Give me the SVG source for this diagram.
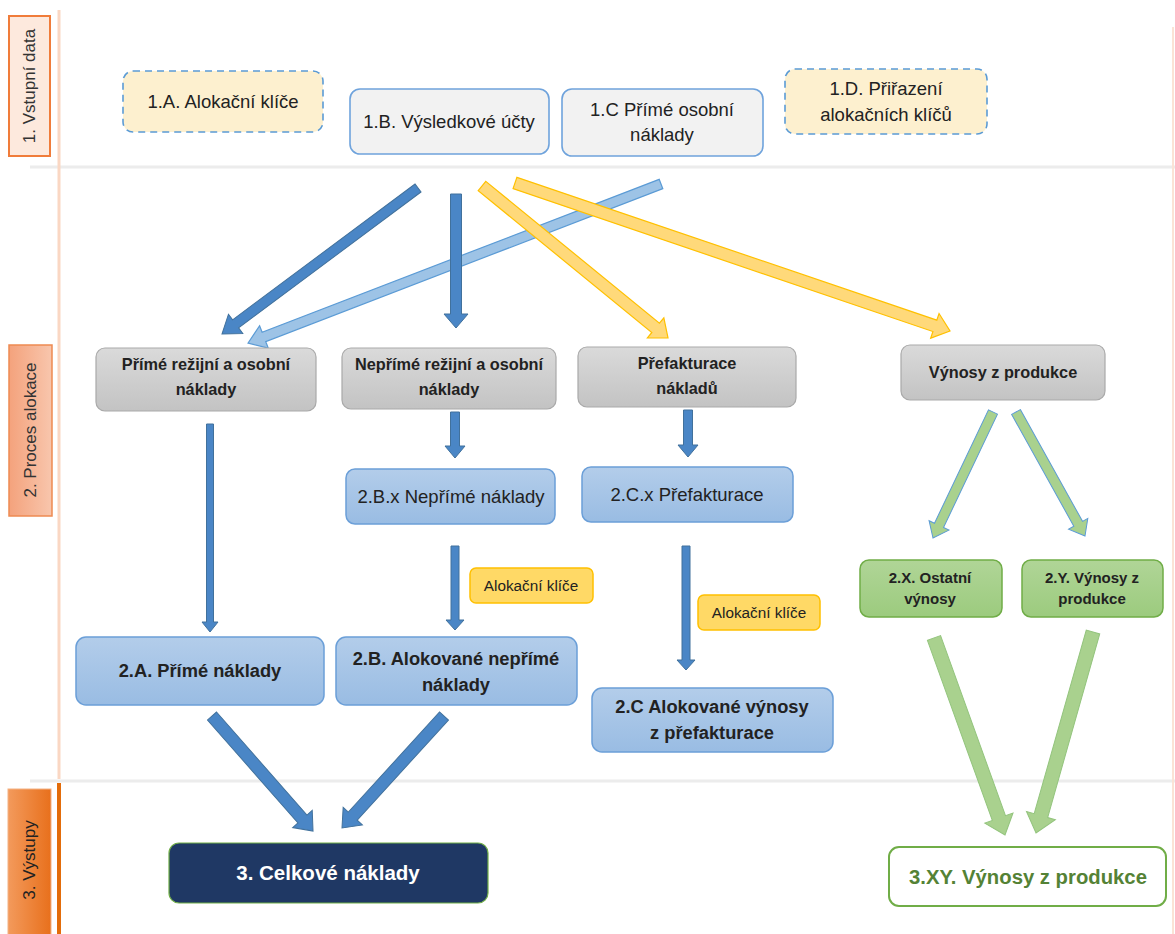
<svg xmlns="http://www.w3.org/2000/svg" width="1175" height="934" viewBox="0 0 1175 934">
<defs>
<linearGradient id="gGray" x1="0" y1="0" x2="0" y2="1"><stop offset="0" stop-color="#dadada"/><stop offset="1" stop-color="#c3c3c3"/></linearGradient>
<linearGradient id="gBlue" x1="0" y1="0" x2="0" y2="1"><stop offset="0" stop-color="#b3cdea"/><stop offset="1" stop-color="#99bce3"/></linearGradient>
<linearGradient id="gGreen" x1="0" y1="0" x2="0" y2="1"><stop offset="0" stop-color="#b0d597"/><stop offset="1" stop-color="#9ccb7e"/></linearGradient>
<linearGradient id="gL2" x1="0" y1="0" x2="1" y2="0"><stop offset="0" stop-color="#f4a27c"/><stop offset="1" stop-color="#f8c6ad"/></linearGradient>
<linearGradient id="gL3" x1="0" y1="0" x2="1" y2="0"><stop offset="0" stop-color="#f39a5c"/><stop offset="1" stop-color="#e8701c"/></linearGradient>
</defs>
<style>
text{font-family:"Liberation Sans",Arial,sans-serif;text-anchor:middle;fill:#222}
.in{fill:#f2f2f2;stroke:#6fa3dc;stroke-width:1.6}
.key{fill:#fdf0cf;stroke:#5b9bd5;stroke-width:1.6;stroke-dasharray:7 5}
.gray{fill:url(#gGray);stroke:#a9a9a9;stroke-width:1.2}
.blue{fill:url(#gBlue);stroke:#6b9fd8;stroke-width:1.5}
.green{fill:url(#gGreen);stroke:#70ad47;stroke-width:1.5}
.ylw{fill:#ffd966;stroke:#ffc000;stroke-width:1.5}
.t19{font-size:18.5px}
.b16{font-size:16.3px;font-weight:bold}
.b18{font-size:18.3px;font-weight:bold}
.n18{font-size:18.5px}
.b15{font-size:15px;font-weight:bold}
.y15{font-size:15.3px}
.lane{font-size:17px;fill:#333}
.aDark{fill:#4a86c6;stroke:#41719c;stroke-width:1}
.aLight{fill:#9dc3e6;stroke:#5b9bd5;stroke-width:1.2}
.aYel{fill:#ffd97a;stroke:#ffc000;stroke-width:1.2}
.aGrnB{fill:#a9d18e;stroke:#5b9bd5;stroke-width:1}
.aGrn{fill:#a9d18e;stroke:#93c47d;stroke-width:1}
</style>
<rect width="1175" height="934" fill="#ffffff"/>
<g id="lanes">
<line x1="30" y1="167" x2="1175" y2="167" stroke="#ececec" stroke-width="3"/>
<line x1="30" y1="781" x2="1175" y2="781" stroke="#ececec" stroke-width="3"/>
<line x1="59" y1="10" x2="59" y2="779" stroke="#fad7c3" stroke-width="3"/>
<line x1="59" y1="783" x2="59" y2="934" stroke="#e36c0a" stroke-width="4"/>
<line x1="1173" y1="27" x2="1173" y2="934" stroke="#fbe3d6" stroke-width="2"/>
<rect x="9" y="16" width="41" height="140" fill="#fde9dd" stroke="#f07c3a" stroke-width="2"/>
<text class="lane" transform="translate(35,86) rotate(-90)">1. Vstupní data</text>
<rect x="9" y="345" width="43" height="171" fill="url(#gL2)" stroke="#ee8a52" stroke-width="1.5"/>
<text class="lane" transform="translate(36,430) rotate(-90)">2. Proces alokace</text>
<rect x="8" y="789" width="43" height="150" fill="url(#gL3)" stroke="#f4b183" stroke-width="1"/>
<text class="lane" transform="translate(35,860) rotate(-90)" style="fill:#222">3. Výstupy</text>
</g>
<g id="connectors">
<g transform="translate(418,188) rotate(143.32)"><path class="aDark" d="M0,-5 L227.4,-5 L227.4,-12 L244.4,0 L227.4,12 L227.4,5 L0,5 Z"/></g>
<g transform="translate(661,184) rotate(158.94)"><path class="aLight" d="M0,-5 L425.5,-5 L425.5,-12 L442.5,0 L425.5,12 L425.5,5 L0,5 Z"/></g>
<g transform="translate(456,194) rotate(90)"><path class="aDark" d="M0,-5.5 L120,-5.5 L120,-12 L134,0 L120,12 L120,5.5 L0,5.5 Z"/></g>
<g transform="translate(482,186) rotate(39.25)"><path class="aYel" d="M0,-6 L224.2,-6 L224.2,-13 L240.2,0 L224.2,13 L224.2,6 L0,6 Z"/></g>
<g transform="translate(515,183) rotate(18.79)"><path class="aYel" d="M0,-6 L443.5,-6 L443.5,-13 L459.5,0 L443.5,13 L443.5,6 L0,6 Z"/></g>
<g transform="translate(210,424) rotate(90)"><path class="aDark" d="M0,-3.5 L198,-3.5 L198,-8 L208,0 L198,8 L198,3.5 L0,3.5 Z"/></g>
<g transform="translate(455,412) rotate(90)"><path class="aDark" d="M0,-4.5 L34,-4.5 L34,-10 L46,0 L34,10 L34,4.5 L0,4.5 Z"/></g>
<g transform="translate(688,410) rotate(90)"><path class="aDark" d="M0,-4.5 L35,-4.5 L35,-10 L47,0 L35,10 L35,4.5 L0,4.5 Z"/></g>
<g transform="translate(455,546) rotate(90)"><path class="aDark" d="M0,-4 L74,-4 L74,-9 L84,0 L74,9 L74,4 L0,4 Z"/></g>
<g transform="translate(686,546) rotate(90)"><path class="aDark" d="M0,-4 L114,-4 L114,-9 L124,0 L114,9 L114,4 L0,4 Z"/></g>
<g transform="translate(212,716) rotate(48.71)"><path class="aDark" d="M0,-6 L137.1,-6 L137.1,-13 L153.1,0 L137.1,13 L137.1,6 L0,6 Z"/></g>
<g transform="translate(444,716) rotate(132.32)"><path class="aDark" d="M0,-6 L135.5,-6 L135.5,-13 L151.5,0 L135.5,13 L135.5,6 L0,6 Z"/></g>
<g transform="translate(993,412) rotate(115.46)"><path class="aGrnB" d="M0,-5 L125.6,-5 L125.6,-11 L139.6,0 L125.6,11 L125.6,5 L0,5 Z"/></g>
<g transform="translate(1016,412) rotate(60.91)"><path class="aGrnB" d="M0,-5 L127.9,-5 L127.9,-11 L141.9,0 L127.9,11 L127.9,5 L0,5 Z"/></g>
<g transform="translate(934,638) rotate(70.18)"><path class="aGrn" d="M0,-7 L191.4,-7 L191.4,-15 L209.4,0 L191.4,15 L191.4,7 L0,7 Z"/></g>
<g transform="translate(1093,632) rotate(105.83)"><path class="aGrn" d="M0,-7 L190.9,-7 L190.9,-15 L208.9,0 L190.9,15 L190.9,7 L0,7 Z"/></g>
</g>
<g id="n1A"><rect class="key" x="123" y="71" width="200" height="61" rx="10"/><text class="t19" x="223" y="108">1.A. Alokační klíče</text></g>
<g id="n1B"><rect class="in" x="350" y="89" width="199" height="65" rx="10"/><text class="t19" x="449" y="128">1.B. Výsledkové účty</text></g>
<g id="n1C"><rect class="in" x="562" y="89" width="201" height="67" rx="10"/><text class="t19" x="662" y="116">1.C Přímé osobní</text><text class="t19" x="662" y="141">náklady</text></g>
<g id="n1D"><rect class="key" x="785" y="69" width="202" height="65" rx="10"/><text class="t19" x="886" y="95">1.D. Přiřazení</text><text class="t19" x="886" y="121">alokačních klíčů</text></g>
<g id="nPR"><rect class="gray" x="96" y="348" width="220" height="63" rx="9"/><text class="b16" x="206" y="370">Přímé režijní a osobní</text><text class="b16" x="206" y="395">náklady</text></g>
<g id="nNR"><rect class="gray" x="342" y="348" width="214" height="61" rx="9"/><text class="b16" x="449" y="370">Nepřímé režijní a osobní</text><text class="b16" x="449" y="395">náklady</text></g>
<g id="nPF"><rect class="gray" x="578" y="347" width="218" height="60" rx="9"/><text class="b16" x="687" y="369">Přefakturace</text><text class="b16" x="687" y="394">nákladů</text></g>
<g id="nVP"><rect class="gray" x="901" y="345" width="204" height="55" rx="9"/><text class="b16" x="1003" y="378">Výnosy z produkce</text></g>
<g id="n2Bx"><rect class="blue" x="346" y="469" width="209" height="55" rx="9"/><text class="n18" x="451" y="503">2.B.x Nepřímé náklady</text></g>
<g id="n2Cx"><rect class="blue" x="582" y="467" width="211" height="55" rx="9"/><text class="n18" x="687" y="501">2.C.x Přefakturace</text></g>
<g id="kB"><rect class="ylw" x="470" y="568" width="123" height="35" rx="6"/><text class="y15" x="531" y="591">Alokační klíče</text></g>
<g id="kC"><rect class="ylw" x="698" y="595" width="122" height="35" rx="6"/><text class="y15" x="759" y="618">Alokační klíče</text></g>
<g id="n2A"><rect class="blue" x="76" y="637" width="248" height="68" rx="10"/><text class="b18" x="200" y="677">2.A. Přímé náklady</text></g>
<g id="n2B"><rect class="blue" x="336" y="637" width="241" height="68" rx="10"/><text class="b18" x="456" y="665">2.B. Alokované nepřímé</text><text class="b18" x="456" y="691">náklady</text></g>
<g id="n2C"><rect class="blue" x="592" y="688" width="241" height="64" rx="10"/><text class="b18" x="712" y="713">2.C Alokované výnosy</text><text class="b18" x="712" y="739">z přefakturace</text></g>
<g id="n2X"><rect class="green" x="860" y="560" width="142" height="57" rx="9"/><text class="b15" x="930" y="583">2.X. Ostatní</text><text class="b15" x="930" y="604">výnosy</text></g>
<g id="n2Y"><rect class="green" x="1022" y="560" width="141" height="57" rx="9"/><text class="b15" x="1092" y="583">2.Y. Výnosy z</text><text class="b15" x="1092" y="604">produkce</text></g>
<g id="n3"><rect x="169" y="843" width="319" height="60" rx="10" fill="#1f3864" stroke="#70ad47" stroke-width="1.2"/><text x="328" y="880" style="font-size:20.5px;font-weight:bold;fill:#ffffff">3. Celkové náklady</text></g>
<g id="n3XY"><rect x="889" y="847" width="277" height="59" rx="10" fill="#ffffff" stroke="#70ad47" stroke-width="2"/><text x="1028" y="884" style="font-size:20.3px;font-weight:bold;fill:#548235">3.XY. Výnosy z produkce</text></g>
</svg>
